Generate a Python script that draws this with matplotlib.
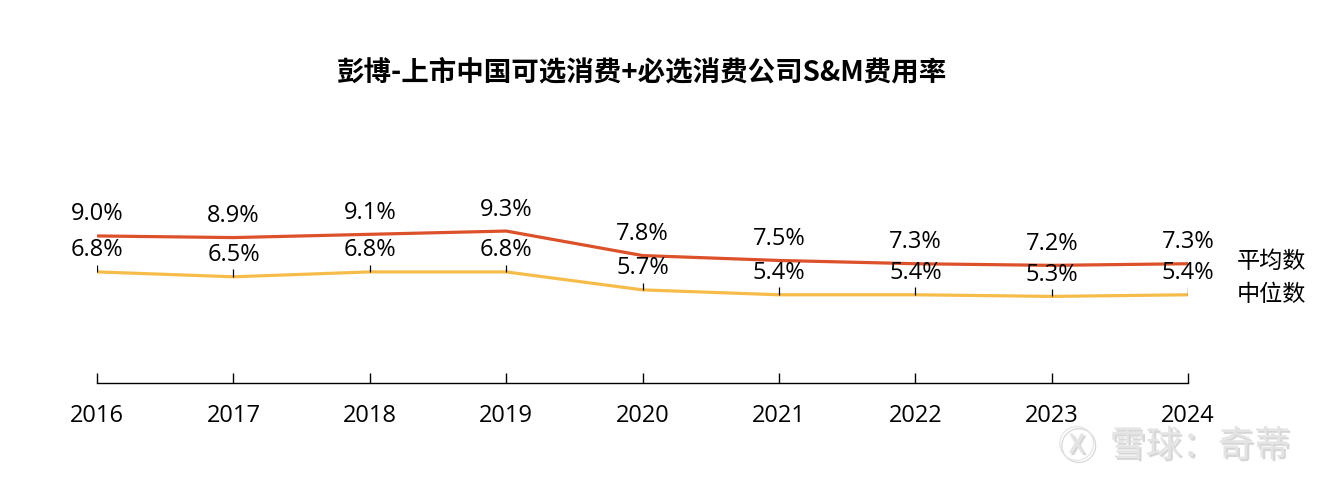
import matplotlib
matplotlib.use('Agg')
from matplotlib import pyplot as plt
import matplotlib.patheffects as pe

plt.rcParams['font.family'] = ['Open Sans', 'Noto Sans CJK SC', 'DejaVu Sans']

years = ['2016', '2017', '2018', '2019', '2020', '2021', '2022', '2023', '2024']
mean_rate = [9.0, 8.9, 9.1, 9.3, 7.8, 7.5, 7.3, 7.2, 7.3]
median_rate = [6.8, 6.5, 6.8, 6.8, 5.7, 5.4, 5.4, 5.3, 5.4]
title = '彭博-上市中国可选消费+必选消费公司S&M费用率'

red = '#DC5129'
yellow = '#F6BC4A'

fig = plt.figure(figsize=(13.26, 4.83), dpi=100)
ax = fig.add_axes([0.0732, 0.207, 0.8228, 0.406])

x = list(range(len(years)))
ax.plot(x, mean_rate, color=red, lw=2.3, solid_capstyle='butt')
ax.plot(x, median_rate, color=yellow, lw=2.3, solid_capstyle='butt')
ax.vlines(x, median_rate, [v + 0.45 for v in median_rate], color='black', lw=0.9)

for i in x:
    ax.annotate(f'{mean_rate[i]:.1f}%', (i, mean_rate[i]), xytext=(0, 15.5),
                textcoords='offset points', ha='center', va='center', fontsize=17)
    ax.annotate(f'{median_rate[i]:.1f}%', (i, median_rate[i]), xytext=(0, 15.5),
                textcoords='offset points', ha='center', va='center', fontsize=17)

ax.set_xlim(0, len(years) - 1)
ax.set_ylim(0, 12)
ax.set_xticks(x)
ax.set_xticklabels(years, fontsize=17)
ax.set_yticks([])
for s in ['top', 'right', 'left']:
    ax.spines[s].set_visible(False)
ax.spines['bottom'].set_linewidth(1.0)
ax.tick_params(axis='x', direction='in', length=7, width=1.0, pad=15)

fig.text(0.4842, 0.85, title, ha='center', va='center', fontsize=19.8,
         fontweight='bold', family=['Noto Sans CJK SC', 'DejaVu Sans'])
fig.text(0.933, 0.458, '平均数', ha='left', va='center', fontsize=16.7,
         family=['Noto Sans CJK SC'])
fig.text(0.933, 0.390, '中位数', ha='left', va='center', fontsize=16.7,
         family=['Noto Sans CJK SC'])

# watermark
shadow = [pe.withSimplePatchShadow(offset=(1.5, -1.5), shadow_rgbFace='#BBBBBB', alpha=0.6)]
fig.text(0.812, 0.074, 'Ⓧ', ha='center', va='center', fontsize=27,
         color='#E4E4E4', family=['Noto Sans CJK SC'], path_effects=shadow)
fig.text(0.973, 0.076, '雪球：奇蒂', ha='right', va='center', fontsize=26,
         color='#E4E4E4', family=['Noto Sans CJK SC'], path_effects=shadow)

fig.savefig('out.png', dpi=100)
